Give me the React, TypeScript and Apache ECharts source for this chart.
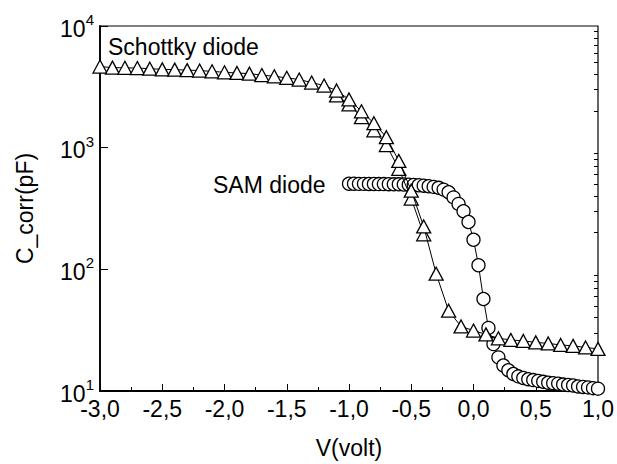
import React, { useEffect, useRef } from "react";
import * as echarts from "echarts";

// Schottky diode (triangles), V step 0.1
const schottkyV = [
  -3.0, -2.9, -2.8, -2.7, -2.6, -2.5, -2.4, -2.3, -2.2, -2.1, -2.0, -1.9, -1.8, -1.7, -1.6, -1.5, -1.4, -1.3, -1.2, -1.1,
  -1.0, -0.9, -0.8, -0.7, -0.6, -0.5, -0.4, -0.3, -0.2, -0.1, 0.0, 0.1, 0.2, 0.3, 0.4, 0.5, 0.6, 0.7, 0.8, 0.9, 1.0,
];
const schottkyC = [
  4640, 4550, 4530, 4510, 4460, 4400, 4380, 4340, 4300, 4240, 4160, 4110, 4060, 3950, 3860, 3750, 3630, 3430, 3240, 2950,
  2490, 1990, 1590, 1220, 778, 443, 225, 92, 45.7, 33.9, 31.4, 29.2, 27.1, 26.3, 25.8, 25.1, 24.6, 23.9, 23.5, 22.8, 22.2,
];
// second sweep of the Schottky diode, visible in the steep part
const schottky2V = [-1.1, -1.0, -0.9, -0.8, -0.7, -0.6, -0.5, -0.4];
const schottky2C = [2690, 2270, 1780, 1390, 1050, 670, 382, 194];

// SAM diode (circles), V step 0.04
const samV = [
  -1.0, -0.96, -0.92, -0.88, -0.84, -0.8, -0.76, -0.72, -0.68, -0.64, -0.6, -0.56, -0.52, -0.48, -0.44, -0.4, -0.36,
  -0.32, -0.28, -0.24, -0.2, -0.16, -0.12, -0.08, -0.04, 0.0, 0.04, 0.08, 0.12, 0.16, 0.2, 0.24, 0.28, 0.32, 0.36, 0.4,
  0.44, 0.48, 0.52, 0.56, 0.6, 0.64, 0.68, 0.72, 0.76, 0.8, 0.84, 0.88, 0.92, 0.96, 1.0,
];
const samC = [
  505, 505, 504, 504, 503, 503, 502, 502, 501, 500, 500, 498, 496, 494, 491, 487, 482, 476, 468, 452, 430, 390, 345, 300,
  245, 175, 108, 57, 33, 24.3, 18.9, 16.2, 14.8, 13.8, 13.2, 12.8, 12.5, 12.3, 12.1, 11.9, 11.7, 11.6, 11.5, 11.3, 11.2,
  11.1, 10.9, 10.8, 10.7, 10.55, 10.45,
];

const yMajor = [10, 100, 1000, 10000];
const yMinor = [20, 30, 40, 50, 60, 70, 80, 90, 200, 300, 400, 500, 600, 700, 800, 900, 2000, 3000, 4000, 5000, 6000, 7000, 8000, 9000];
const supDigits: Record<number, string> = { 10: "1", 100: "2", 1000: "3", 10000: "4" };

const FONT = "Liberation Sans, Arial, sans-serif";
const FS = 23;

export default function App() {
  const ref = useRef<HTMLDivElement>(null);
  useEffect(() => {
    if (!ref.current) return;
    const chart = echarts.init(ref.current, null, { renderer: "svg" });
    const zip = (xs: number[], ys: number[]) => xs.map((x, i) => [x, ys[i]]);
    const markStyle = { color: "#fff", borderColor: "#000", borderWidth: 1.3 };
    chart.setOption({
      animation: false,
      backgroundColor: "#fff",
      grid: { left: 100, right: 19, top: 26, bottom: 70, show: true, borderColor: "#000", borderWidth: 1.2, backgroundColor: "transparent" },
      xAxis: {
        type: "value",
        min: -3,
        max: 1,
        interval: 0.5,
        name: "V(volt)",
        nameLocation: "middle",
        nameGap: 45,
        nameTextStyle: { fontFamily: FONT, fontSize: FS, color: "#000" },
        axisLine: { onZero: false, lineStyle: { color: "#000", width: 1.8 } },
        axisTick: { inside: true, length: 7, lineStyle: { color: "#000", width: 1 } },
        minorTick: { show: true, splitNumber: 2, length: 4, lineStyle: { color: "#000", width: 1 } },
        splitLine: { show: false },
        axisLabel: {
          fontFamily: FONT,
          fontSize: FS,
          color: "#000",
          margin: 6,
          formatter: (v: number) => v.toFixed(1).replace(".", ","),
        },
      },
      yAxis: [
        {
          type: "log",
          logBase: 10,
          min: 10,
          max: 10000,
          name: "C_corr(pF)",
          nameLocation: "middle",
          nameGap: 64,
          nameRotate: 90,
          nameTextStyle: { fontFamily: FONT, fontSize: FS, color: "#000" },
          axisLine: { onZero: false, lineStyle: { color: "#000", width: 1.8 } },
          axisTick: { inside: true, length: 8, customValues: yMajor, lineStyle: { color: "#000", width: 1 } },
          splitLine: { show: false },
          axisLabel: {
            customValues: yMajor,
            margin: 6,
            formatter: (v: number) => `{b|10}{s|${supDigits[Math.round(v)] ?? ""}}`,
            rich: {
              b: { fontFamily: FONT, fontSize: FS, color: "#000", lineHeight: 28, verticalAlign: "bottom" },
              s: { fontFamily: FONT, fontSize: 15, color: "#000", lineHeight: 28, verticalAlign: "top" },
            },
          },
        },
        {
          type: "log",
          logBase: 10,
          min: 10,
          max: 10000,
          axisLine: { onZero: false, show: false },
          axisTick: { inside: true, length: 4, customValues: yMinor, lineStyle: { color: "#000", width: 1 } },
          axisLabel: { show: false },
          splitLine: { show: false },
        },
      ],
      graphic: [
        {
          type: "text",
          left: 108,
          top: 35,
          style: { text: "Schottky diode", fontFamily: FONT, fontSize: FS, fill: "#000" },
          z: 10,
        },
        {
          type: "text",
          left: 213,
          top: 173,
          style: { text: "SAM diode", fontFamily: FONT, fontSize: FS, fill: "#000" },
          z: 10,
        },
      ],
      series: [
        {
          name: "SAM diode",
          type: "line",
          data: zip(samV, samC),
          symbol: "circle",
          symbolSize: 13,
          itemStyle: markStyle,
          lineStyle: { color: "#000", width: 1 },
          z: 2,
        },
        {
          name: "Schottky diode 2",
          type: "line",
          data: zip(schottky2V, schottky2C),
          symbol: "triangle",
          symbolSize: [14, 13],
          itemStyle: markStyle,
          lineStyle: { color: "#000", width: 1 },
          z: 3,
        },
        {
          name: "Schottky diode",
          type: "line",
          data: zip(schottkyV, schottkyC),
          symbol: "triangle",
          symbolSize: [14, 13],
          itemStyle: markStyle,
          lineStyle: { color: "#000", width: 1 },
          z: 4,
        },
      ],
    });
    return () => chart.dispose();
  }, []);
  return <div ref={ref} style={{ position: "fixed", left: 0, top: 0, width: 617, height: 464 }} />;
}
